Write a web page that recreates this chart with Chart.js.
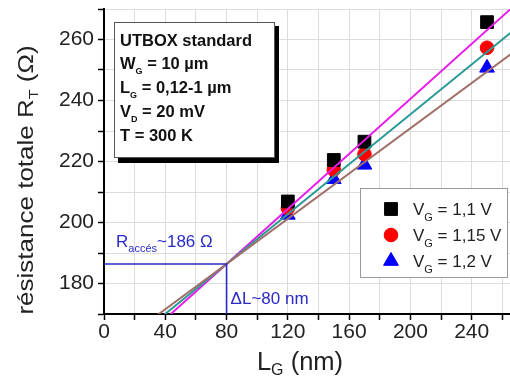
<!DOCTYPE html>
<html>
<head>
<meta charset="utf-8">
<script src="https://cdn.jsdelivr.net/npm/chart.js@4.4.1/dist/chart.umd.min.js"></script>
<style>
  html, body { margin: 0; padding: 0; background: #fff; }
  #wrap { width: 510px; height: 381px; position: relative; }
</style>
</head>
<body>
<div id="wrap"><canvas id="myChart" width="510" height="381"></canvas></div>
<script>
// longueurs de grille mesurées (nm)
var gateLengths = [120, 150, 170, 250];
// résistance totale (ohm) pour chaque V_G
var rVg110 = [206.9, 220.5, 226.5, 265.7];
var rVg115 = [204.7, 217.3, 222.4, 257.3];
var rVg120 = [202.5, 214.2, 218.9, 250.7];
var seriesLabels = ['V_{G} = 1,1 V', 'V_{G} = 1,15 V', 'V_{G} = 1,2 V'];
var seriesColors = ['#000000', '#ff0000', '#0000ff'];
var seriesShapes = ['rect', 'circle', 'triangle'];
// droites d'ajustement : pentes (ohm/nm), toutes passent par (deltaL, rAcces)
var fitSlopes = [0.451, 0.409, 0.371];
var fitColors = ['#e81ce8', '#2a9a96', '#a07068'];
var fitRange = [20, 280];
var rAcces = 186.4;
var rAccesText = '186';
var deltaL = 80;
// encadré
var infoLines = ['UTBOX standard', 'W_{G} = 10 µm', 'L_{G} = 0,12-1 µm', 'V_{D} = 20 mV', 'T = 300 K'];
var xTickLabels = [0, 40, 80, 120, 160, 200, 240];
var yTickLabels = [180, 200, 220, 240, 260];

function pts(ys) {
    return gateLengths.map(function (x, i) { return { x: x, y: ys[i] }; });
}
function fitLine(slope) {
    return fitRange.map(function (x) { return { x: x, y: rAcces + slope * (x - deltaL) }; });
}

// texte avec indices : "V_{G} = 1 V"
function richParts(str) {
    var parts = [];
    var re = /_\{([^}]*)\}/g, last = 0, m;
    while ((m = re.exec(str)) !== null) {
        if (m.index > last) parts.push({ t: str.slice(last, m.index), sub: false });
        parts.push({ t: m[1], sub: true });
        last = re.lastIndex;
    }
    if (last < str.length) parts.push({ t: str.slice(last), sub: false });
    return parts;
}
function drawRich(ctx, str, x, y, size, weight, subSize, subDrop) {
    richParts(str).forEach(function (p) {
        var fs = p.sub ? subSize : size;
        ctx.font = weight + ' ' + fs + 'px "Liberation Sans", Arial, sans-serif';
        ctx.fillText(p.t, x, p.sub ? y + subDrop : y);
        x += ctx.measureText(p.t).width;
    });
    return x;
}
function richWidth(ctx, str, size, weight, subSize) {
    var w = 0;
    richParts(str).forEach(function (p) {
        ctx.font = weight + ' ' + (p.sub ? subSize : size) + 'px "Liberation Sans", Arial, sans-serif';
        w += ctx.measureText(p.t).width;
    });
    return w;
}

var decorations = {
    id: 'decorations',
    afterDatasetsDraw: function (chart) {
        var ctx = chart.ctx;
        var xs = chart.scales.x, ys = chart.scales.y;
        ctx.save();
        ctx.textBaseline = 'alphabetic';
        ctx.textAlign = 'left';

        // annotations bleues
        ctx.fillStyle = '#2a2ac8';
        var xa = drawRich(ctx, 'R', 116, 247, 17, 'normal', 11, 5);
        ctx.font = 'normal 11px "Liberation Sans", Arial, sans-serif';
        ctx.fillText('accés', xa, 252);
        xa += ctx.measureText('accés').width;
        ctx.font = 'normal 17px "Liberation Sans", Arial, sans-serif';
        ctx.fillText('~' + rAccesText + ' Ω', xa, 247);
        ctx.fillText('ΔL~' + deltaL + ' nm', xs.getPixelForValue(deltaL) + 4, 304);

        // encadré d'information
        ctx.fillStyle = '#000';
        ctx.fillRect(118, 26, 161, 137);
        ctx.fillStyle = '#fff';
        ctx.fillRect(114, 22, 161, 136);
        ctx.strokeStyle = '#555';
        ctx.lineWidth = 1;
        ctx.strokeRect(114.5, 22.5, 160, 135);
        ctx.fillStyle = '#111';
        var base = [46, 69, 93, 117, 141];
        infoLines.forEach(function (s, i) {
            drawRich(ctx, s, 120, base[i], 16.5, 'bold', 9, 5);
        });

        // légende
        ctx.fillStyle = '#fff';
        ctx.fillRect(360, 188, 148, 90);
        ctx.strokeStyle = '#9a9a9a';
        ctx.strokeRect(360.5, 188.5, 147, 89);
        var legY = [209, 235, 261];
        seriesLabels.forEach(function (s, i) {
            ctx.fillStyle = seriesColors[i];
            ctx.strokeStyle = seriesColors[i];
            Chart.helpers.drawPoint(ctx, { pointStyle: seriesShapes[i], radius: i === 0 ? 9 : (i === 1 ? 6.8 : 8.5), borderWidth: 1 }, 391, legY[i]);
            ctx.fill();
            ctx.fillStyle = '#222';
            drawRich(ctx, s, 413, legY[i] + 6, 17, 'normal', 11, 6);
        });

        // titres des axes
        ctx.fillStyle = '#222';
        var xt = 'L_{G} (nm)';
        var w = richWidth(ctx, xt, 25.5, 'normal', 16);
        drawRich(ctx, xt, 300 - w / 2, 370, 25.5, 'normal', 16, 5);

        var yt = 'résistance totale R_{T} (Ω)';
        ctx.translate(33, 180);
        ctx.rotate(-Math.PI / 2);
        ctx.scale(1, 0.82);
        w = richWidth(ctx, yt, 26, 'normal', 16);
        drawRich(ctx, yt, -w / 2, 0, 26, 'normal', 16, 6);
        ctx.restore();
    }
};

var datasets = [];
[rVg110, rVg115, rVg120].forEach(function (ys, i) {
    datasets.push({
        type: 'scatter',
        label: seriesLabels[i],
        data: pts(ys),
        showLine: false,
        pointStyle: seriesShapes[i],
        pointRadius: i === 0 ? 9 : (i === 1 ? 6.8 : 8.5),
        pointBackgroundColor: seriesColors[i],
        pointBorderColor: seriesColors[i],
        pointBorderWidth: 1,
        order: 5
    });
});
fitSlopes.forEach(function (s, i) {
    datasets.push({
        type: 'line',
        data: fitLine(s),
        borderColor: fitColors[i],
        borderWidth: 2,
        pointRadius: 0,
        fill: false,
        order: 3 - i
    });
});
datasets.push({
    type: 'line',
    data: [{ x: 0, y: rAcces }, { x: deltaL, y: rAcces }, { x: deltaL, y: 170 }],
    borderColor: '#2a2ac8',
    borderWidth: 1.6,
    pointRadius: 0,
    fill: false,
    order: 0
});

var ctx = document.getElementById('myChart').getContext('2d');
var myChart = new Chart(ctx, {
    type: 'scatter',
    data: { datasets: datasets },
    options: {
        responsive: false,
        animation: false,
        layout: { autoPadding: false, padding: { top: 9, right: 0, left: 0, bottom: 0 } },
        plugins: { legend: { display: false }, tooltip: { enabled: false } },
        scales: {
            x: {
                type: 'linear',
                min: 0,
                max: 265,
                grid: { color: '#dcdcdc', tickColor: '#000', tickLength: 6, tickWidth: 1.5 },
                border: { color: '#000', width: 2 },
                ticks: {
                    stepSize: 20,
                    includeBounds: false,
                    padding: 0,
                    color: '#222',
                    font: { family: '"Liberation Sans", Arial, sans-serif', size: 21 },
                    maxRotation: 0,
                    autoSkip: false,
                    callback: function (v) { return xTickLabels.indexOf(v) >= 0 ? String(v) : ''; }
                },
                afterFit: function (s) { s.height = 67; s.paddingLeft = 0; s.paddingRight = 0; }
            },
            y: {
                type: 'linear',
                min: 170,
                max: 270,
                grid: { color: '#dcdcdc', tickColor: '#000', tickLength: 6, tickWidth: 1.5 },
                border: { color: '#000', width: 2 },
                ticks: {
                    stepSize: 10,
                    includeBounds: false,
                    padding: 4,
                    color: '#222',
                    font: { family: '"Liberation Sans", Arial, sans-serif', size: 21 },
                    autoSkip: false,
                    callback: function (v) { return yTickLabels.indexOf(v) >= 0 ? String(v) : ''; }
                },
                afterFit: function (s) { s.width = 104; s.paddingTop = 0; s.paddingBottom = 0; }
            }
        }
    },
    plugins: [decorations]
});
</script>
</body>
</html>
